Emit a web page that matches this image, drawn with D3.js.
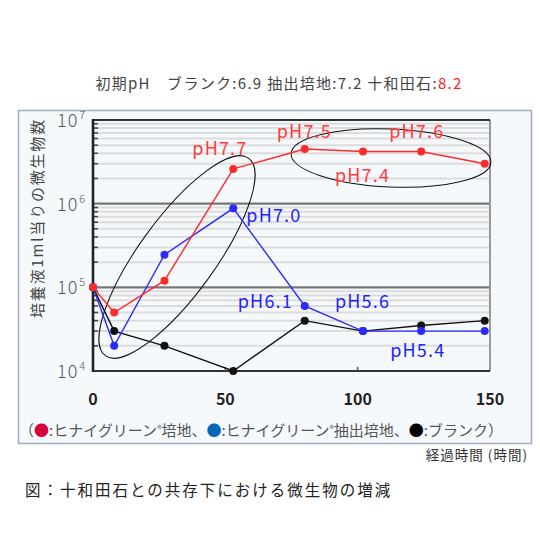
<!DOCTYPE html>
<html>
<head>
<meta charset="utf-8">
<script src="https://cdn.jsdelivr.net/npm/d3@7/dist/d3.min.js"></script>
<style>
  body { margin: 0; background: #fff; }
  svg text { font-family: "Noto Sans CJK JP", "Noto Sans", sans-serif; }
</style>
</head>
<body>
<svg id="chart" width="540" height="540"></svg>
<script>
// hours after start
var hours = [0, 8, 27, 53, 80, 102, 124, 148];
// microbes per 1 ml culture
var tenwadaValues = [1e5, 5e4, 1.2e5, 2.6e6, 4.5e6, 4.2e6, 4.2e6, 3.0e6];
var extractValues = [1e5, 2e4, 2.45e5, 8.8e5, 6e4, 3e4, 3e4, 3e4];
var blankValues = [1e5, 3e4, 2e4, 1e4, 4e4, 3e4, 3.5e4, 4e4];
var xTicks = [0, 50, 100, 150];
var yDecades = [1e4, 1e5, 1e6, 1e7];

// pH notes: [text, hour, value, series]
var phNotes = [
  ["pH7.7", 53, 3.8e6, "red"],
  ["pH7.5", 80, 6.1e6, "red"],
  ["pH7.6", 124, 6.1e6, "red"],
  ["pH7.4", 102, 1.83e6, "red"],
  ["pH7.0", 53, 6.1e5, "blue"],
  ["pH6.1", 80, 5.7e4, "blue"],
  ["pH5.6", 102, 5.7e4, "blue"],
  ["pH5.4", 124, 1.48e4, "blue"]
];

var svg = d3.select("#chart");
var x = d3.scaleLinear().domain([0, 150]).range([93, 490]);
var y = d3.scaleLog().domain([1e4, 1e7]).range([371, 120]);

var colRed = "#ff2a2a", colBlue = "#2a2aff", colBlack = "#111";

// outer panel
svg.append("rect")
  .attr("x", 18.5).attr("y", 110.5)
  .attr("width", 513).attr("height", 333)
  .attr("fill", "#f6f9fc")
  .attr("stroke", "#a3abc4").attr("stroke-width", 1.5);

// title line
var title = svg.append("text")
  .attr("x", 279).attr("y", 89)
  .attr("text-anchor", "middle")
  .attr("font-size", 15)
  .attr("letter-spacing", 1.3)
  .attr("fill", "#444");
title.append("tspan").text("初期pH\u3000ブランク:6.9 抽出培地:7.2 十和田石:");
title.append("tspan").attr("fill", "#ff2020").text("8.2");

// minor grid lines
var minors = [];
[1e4, 1e5, 1e6].forEach(function (d) {
  for (var k = 2; k <= 9; k++) minors.push(d * k);
});
svg.append("g").selectAll("line").data(minors).join("line")
  .attr("x1", x(0)).attr("x2", x(150))
  .attr("y1", function (d) { return y(d); })
  .attr("y2", function (d) { return y(d); })
  .attr("stroke", "#dcdcdc").attr("stroke-width", 2);

// minor ticks on the left axis
svg.append("g").selectAll("line").data(minors).join("line")
  .attr("x1", x(0)).attr("x2", x(0) + 5)
  .attr("y1", function (d) { return y(d); })
  .attr("y2", function (d) { return y(d); })
  .attr("stroke", "#444").attr("stroke-width", 1.5);

// decade lines
svg.append("g").selectAll("line").data([1e5, 1e6]).join("line")
  .attr("x1", x(0)).attr("x2", x(150))
  .attr("y1", function (d) { return y(d); })
  .attr("y2", function (d) { return y(d); })
  .attr("stroke", "#777").attr("stroke-width", 2.2);

// frame
svg.append("line").attr("x1", x(150)).attr("x2", x(150))
  .attr("y1", y(1e7)).attr("y2", y(1e4))
  .attr("stroke", "#999").attr("stroke-width", 2);
svg.append("line").attr("x1", x(0)).attr("x2", x(150))
  .attr("y1", y(1e7)).attr("y2", y(1e7))
  .attr("stroke", "#333").attr("stroke-width", 2);
svg.append("line").attr("x1", x(0)).attr("x2", x(150))
  .attr("y1", y(1e4)).attr("y2", y(1e4))
  .attr("stroke", "#333").attr("stroke-width", 2.2);
svg.append("line").attr("x1", x(0)).attr("x2", x(0))
  .attr("y1", y(1e7) - 1).attr("y2", y(1e4) + 1)
  .attr("stroke", "#222").attr("stroke-width", 2.6);

// small x ticks
svg.append("g").selectAll("line").data(xTicks.slice(1, 3)).join("line")
  .attr("x1", function (d) { return x(d); })
  .attr("x2", function (d) { return x(d); })
  .attr("y1", y(1e4)).attr("y2", y(1e4) - 4)
  .attr("stroke", "#555").attr("stroke-width", 1.5);

// y tick labels 10^n
var ylab = svg.append("g").selectAll("text").data(yDecades).join("text")
  .attr("x", 57)
  .attr("y", function (d) { return y(d) + 7; })
  .attr("font-family", "DejaVu Sans")
  .attr("font-size", 18)
  .attr("font-weight", 200)
  .attr("letter-spacing", 1)
  .attr("fill", "#555");
ylab.append("tspan").text("10");
ylab.append("tspan")
  .attr("dx", 1).attr("dy", -8)
  .attr("font-size", 11)
  .text(function (d) { return Math.round(Math.log10(d)); });

// x tick labels
svg.append("g").selectAll("text").data(xTicks).join("text")
  .attr("x", function (d) { return x(d); })
  .attr("y", 405)
  .attr("text-anchor", "middle")
  .attr("font-family", "Liberation Sans")
  .attr("font-weight", "bold")
  .attr("font-size", 16)
  .attr("fill", "#222")
  .text(function (d) { return d; });

// y axis title
svg.append("text")
  .attr("transform", "translate(43,218) rotate(-90)")
  .attr("text-anchor", "middle")
  .attr("font-size", 15)
  .attr("letter-spacing", 1.8)
  .attr("fill", "#444")
  .text("培養液1ml当りの微生物数");

// ellipses
svg.append("ellipse")
  .attr("transform", "translate(177,257) rotate(-54)")
  .attr("rx", 122).attr("ry", 38)
  .attr("fill", "none").attr("stroke", "#111").attr("stroke-width", 1);
svg.append("ellipse")
  .attr("transform", "translate(391,158) rotate(2.5)")
  .attr("rx", 100).attr("ry", 29)
  .attr("fill", "none").attr("stroke", "#111").attr("stroke-width", 1);

// series
var series = [
  { values: blankValues, color: colBlack },
  { values: extractValues, color: colBlue },
  { values: tenwadaValues, color: colRed }
];
var line = d3.line()
  .x(function (d) { return x(d[0]); })
  .y(function (d) { return y(d[1]); });

series.forEach(function (s) {
  var pts = d3.zip(hours, s.values);
  svg.append("path")
    .datum(pts)
    .attr("d", line)
    .attr("fill", "none")
    .attr("stroke", s.color)
    .attr("stroke-width", 1.4);
  svg.append("g").selectAll("circle").data(pts).join("circle")
    .attr("cx", function (d) { return x(d[0]); })
    .attr("cy", function (d) { return y(d[1]); })
    .attr("r", 4)
    .attr("fill", s.color);
});

// pH labels, nudged left/right of their points
var phOffset = { "pH7.7": -41, "pH7.5": -28, "pH7.6": -32, "pH7.4": -28,
                 "pH7.0": 13, "pH6.1": -67, "pH5.6": -28, "pH5.4": -31 };
svg.append("g").selectAll("text").data(phNotes).join("text")
  .attr("x", function (d) { return x(d[1]) + phOffset[d[0]]; })
  .attr("y", function (d) { return y(d[2]); })
  .attr("font-family", "DejaVu Sans")
  .attr("font-size", 18)
  .attr("letter-spacing", 1.2)
  .attr("fill", function (d) { return d[3] === "red" ? "#ff3a3a" : "#1f1fff"; })
  .text(function (d) { return d[0]; });

// legend line
var leg = svg.append("text")
  .attr("x", 261).attr("y", 436)
  .attr("text-anchor", "middle")
  .attr("font-size", 15)
  .attr("fill", "#555");
leg.append("tspan").text("（");
leg.append("tspan").attr("fill", "#d6003b").text("●");
leg.append("tspan").text(":ヒナイグリーン");
leg.append("tspan").attr("font-size", 9).attr("dy", -4).text("®");
leg.append("tspan").attr("dy", 4).text("培地、");
leg.append("tspan").attr("fill", "#0068b7").text("●");
leg.append("tspan").text(":ヒナイグリーン");
leg.append("tspan").attr("font-size", 9).attr("dy", -4).text("®");
leg.append("tspan").attr("dy", 4).text("抽出培地、");
leg.append("tspan").attr("fill", "#000").text("●");
leg.append("tspan").text(":ブランク）");

// x axis title
svg.append("text")
  .attr("x", 528).attr("y", 460)
  .attr("text-anchor", "end")
  .attr("font-size", 13.5)
  .attr("letter-spacing", 1)
  .attr("fill", "#333")
  .text("経過時間 (時間)");

// caption
svg.append("text")
  .attr("x", 25).attr("y", 496)
  .attr("font-size", 15.5)
  .attr("letter-spacing", 2)
  .attr("fill", "#222")
  .text("図：十和田石との共存下における微生物の増減");
</script>
</body>
</html>
